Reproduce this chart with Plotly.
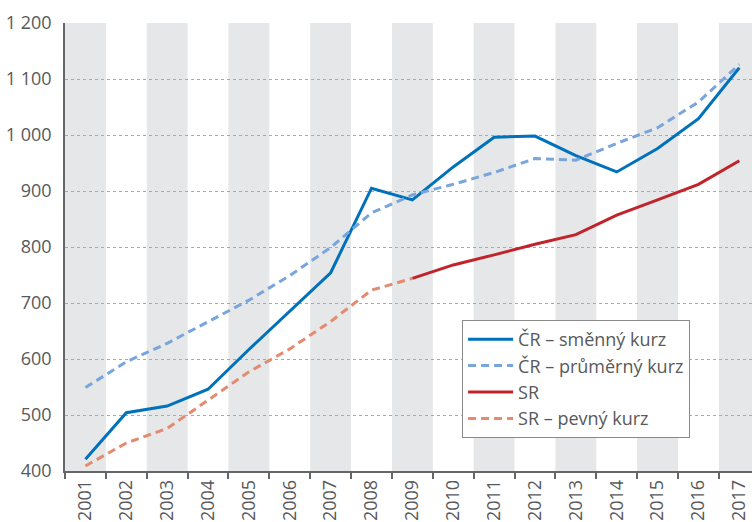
import plotly.graph_objects as go

years = ["2001", "2002", "2003", "2004", "2005", "2006", "2007", "2008", "2009",
         "2010", "2011", "2012", "2013", "2014", "2015", "2016", "2017"]
cr_smenny = [421, 504, 516, 546, 617, 686, 754, 905, 884, 943, 996, 998, 963, 934, 976, 1029, 1120]
cr_prumerny = [549, 595, 628, 667, 705, 749, 799, 861, 893, 912, 933, 958, 955, 985, 1013, 1059, 1126]
sr_years = years[8:]
sr = [744, 768, 786, 805, 822, 857, 884, 912, 954]
sr_pevny_years = years[:9]
sr_pevny = [409, 450, 476, 527, 577, 618, 667, 723, 744]
y_ticks = [400, 500, 600, 700, 800, 900, 1000, 1100, 1200]
y_ticktext = ["400", "500", "600", "700", "800", "900", "1 000", "1 100", "1 200"]

FONT = "Open Sans"
TXT = "#58595b"

fig = go.Figure()
fig.add_trace(go.Scatter(x=years, y=cr_smenny, mode="lines", name="ČR – směnný kurz",
                         legendgroup="a", line=dict(color="#0071bb", width=3)))
fig.add_trace(go.Scatter(x=years, y=cr_prumerny, mode="lines", name="ČR – průměrný kurz",
                         legendgroup="b", line=dict(color="#78a5dc", width=3, dash="8px,5px")))
fig.add_trace(go.Scatter(x=sr_years, y=sr, mode="lines", name="SR",
                         legendgroup="c", line=dict(color="#c1232b", width=3)))
fig.add_trace(go.Scatter(x=sr_pevny_years, y=sr_pevny, mode="lines", name="SR – pevný kurz",
                         legendgroup="d", line=dict(color="#e38a6f", width=3, dash="8px,5px")))

shapes = []
for i in range(0, len(years), 2):
    shapes.append(dict(type="rect", xref="x", yref="paper", x0=i - 0.5, x1=i + 0.5,
                       y0=0, y1=1, fillcolor="#e6e7e8", line=dict(width=0), layer="below"))

fig.update_layout(
    width=752, height=522,
    margin=dict(l=65, r=0, t=23, b=51),
    paper_bgcolor="white", plot_bgcolor="white",
    font=dict(family=FONT, size=18, color=TXT),
    shapes=shapes,
    showlegend=True,
    legend=dict(x=0.578, y=0.337, xanchor="left", yanchor="top",
                bgcolor="white", bordercolor="#8a8a8a", borderwidth=1,
                font=dict(family=FONT, size=18, color=TXT),
                itemwidth=45, tracegroupgap=2, traceorder="normal"),
    xaxis=dict(type="category", range=[-0.5, 16.31], tickson="boundaries",
               ticks="outside", ticklen=6, tickcolor="#666", tickwidth=1.5,
               tickangle=-90, showgrid=False, showline=True, linecolor="#666",
               linewidth=1.5, zeroline=False, automargin=False,
               tickfont=dict(family=FONT, size=18, color=TXT)),
    yaxis=dict(range=[400, 1200], tickvals=y_ticks, ticktext=y_ticktext,
               showgrid=True, gridcolor="#a7a9ac", griddash="dot", gridwidth=1,
               showline=True, linecolor="#666", linewidth=1.5, zeroline=False,
               ticks="", ticklabelstandoff=8, automargin=False,
               tickfont=dict(family=FONT, size=18, color=TXT)),
)

fig.write_html("out.html", config={"displayModeBar": False},
               post_script="document.body.style.margin='0';document.body.style.overflow='hidden';")
